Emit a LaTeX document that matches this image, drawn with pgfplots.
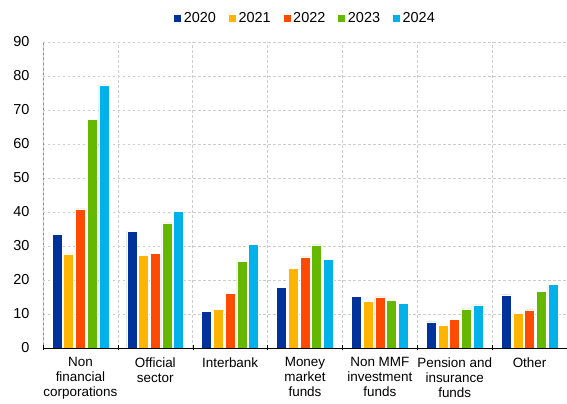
\documentclass[border=0pt]{standalone}
\usepackage{pgfplots}
\pgfplotsset{compat=1.18}
\usepackage{fontspec}
\setmainfont{Liberation Sans}
\definecolor{ecbblue}{HTML}{003299}
\definecolor{ecbyellow}{HTML}{FFB400}
\definecolor{ecborange}{HTML}{FF4B00}
\definecolor{ecbgreen}{HTML}{65B800}
\definecolor{ecblight}{HTML}{00B1EA}
\begin{document}
\begin{tikzpicture}
\begin{axis}[
  scale only axis,
  width=524bp, height=306bp,
  ymin=0, ymax=90, xmin=-0.5, xmax=6.5,
  ytick={0,10,...,90},
  xtick={0,...,6},
  xticklabels={{Non\\financial\\corporations},{Official\\sector},Interbank,{Money\\market\\funds},{Non MMF\\investment\\funds},{Pension and\\insurance\\funds},Other},
  extra x ticks={-0.5,0.5,...,6.5},
  extra x tick labels={},
  extra x tick style={grid=major, major tick length=5bp, tick align=center, tick style={black, thin}},
  major tick length=0pt,
  ymajorgrids,
  major grid style={dash pattern=on 2.5bp off 2.5bp, black!20, line width=0.7pt},
  axis x line*=bottom, axis y line*=left,
  x axis line style={black, line width=0.6pt},
  y axis line style={black!45, line width=0.6pt},
  /pgf/number format/assume math mode=true,
  tick label style={font=\fontsize{13.5}{15}\selectfont},
  yticklabel style={font=\fontsize{14.5}{16}\selectfont, xshift=-10bp},
  xticklabel style={align=center, yshift=-6bp},
  ybar=1.7bp, bar width=10bp,
  every axis plot/.append style={draw=white, line width=0.6pt},
  legend columns=5,
  legend style={at={(0.5,1)}, anchor=south, yshift=14bp, draw=none,
    font=\fontsize{14.5}{16}\selectfont,
    /tikz/every even column/.append style={column sep=10bp}},
  legend image code/.code={\fill[#1] (0bp,-4bp) rectangle (8bp,4bp);},
]
\addplot[fill=ecbblue] coordinates {(0,33.5) (1,34.4) (2,10.7) (3,17.9) (4,15.2) (5,7.7) (6,15.6)};
\addplot[fill=ecbyellow] coordinates {(0,27.7) (1,27.2) (2,11.3) (3,23.5) (4,13.8) (5,6.6) (6,10.1)};
\addplot[fill=ecborange] coordinates {(0,40.9) (1,27.9) (2,16.0) (3,26.8) (4,15.0) (5,8.3) (6,11.2)};
\addplot[fill=ecbgreen] coordinates {(0,67.2) (1,36.8) (2,25.5) (3,30.3) (4,14.0) (5,11.5) (6,16.7)};
\addplot[fill=ecblight] coordinates {(0,77.4) (1,40.1) (2,30.5) (3,26.0) (4,13.0) (5,12.7) (6,18.8)};
\legend{2020,2021,2022,2023,2024}
\end{axis}
\pgfresetboundingbox
\path[use as bounding box] ([shift={(-43bp,-56bp)}]current axis.south west) rectangle ([shift={(0bp,42bp)}]current axis.north east);
\end{tikzpicture}
\end{document}
